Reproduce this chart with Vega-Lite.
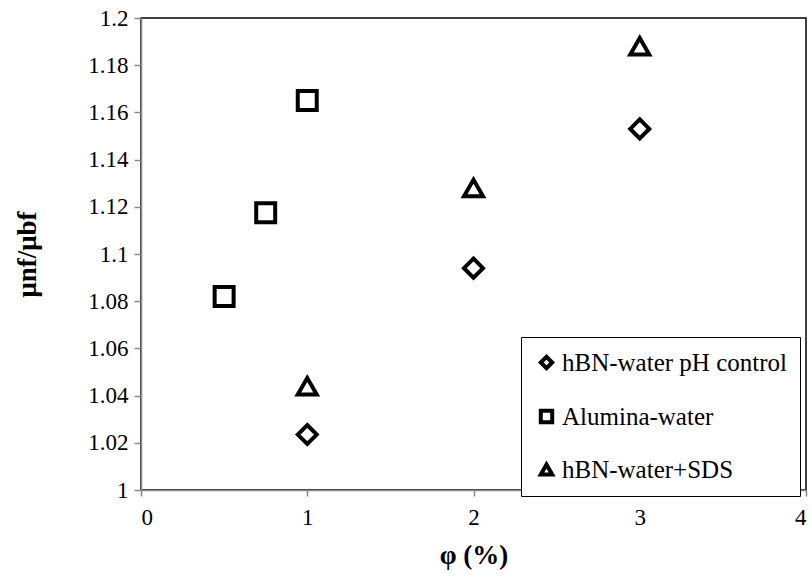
{
  "$schema": "https://vega.github.io/schema/vega-lite/v6.json",
  "width": 665,
  "height": 472,
  "autosize": {"type": "none"},
  "padding": {"left": 141, "top": 18, "right": 5, "bottom": 89},
  "background": "white",
  "config": {
    "view": {"stroke": "black", "strokeWidth": 1.5},
    "font": "Liberation Serif"
  },
  "data": {
    "values": [
      {"phi": 1, "ratio": 1.0235, "series": "hBN-water pH control"},
      {"phi": 2, "ratio": 1.094, "series": "hBN-water pH control"},
      {"phi": 3, "ratio": 1.153, "series": "hBN-water pH control"},
      {"phi": 0.5, "ratio": 1.082, "series": "Alumina-water"},
      {"phi": 0.75, "ratio": 1.1175, "series": "Alumina-water"},
      {"phi": 1, "ratio": 1.165, "series": "Alumina-water"},
      {"phi": 1, "ratio": 1.044, "series": "hBN-water+SDS"},
      {"phi": 2, "ratio": 1.128, "series": "hBN-water+SDS"},
      {"phi": 3, "ratio": 1.188, "series": "hBN-water+SDS"}
    ]
  },
  "mark": {"type": "point", "filled": false, "strokeWidth": 4, "color": "black", "opacity": 1, "size": 360},
  "encoding": {
    "x": {
      "field": "phi",
      "type": "quantitative",
      "scale": {"domain": [0, 4], "nice": false},
      "axis": {
        "values": [0, 1, 2, 3, 4],
        "grid": false,
        "domainColor": "#888888",
        "domainWidth": 1.5,
        "tickColor": "#888888",
        "tickSize": 6,
        "tickWidth": 1.5,
        "labelFontSize": 23,
        "labelFont": "Liberation Serif",
        "labelColor": "black",
        "labelPadding": 10,
        "title": "φ (%)",
        "titleFont": "Liberation Serif",
        "titleFontSize": 27,
        "titleFontWeight": "bold",
        "titleColor": "black",
        "titlePadding": 13
      }
    },
    "y": {
      "field": "ratio",
      "type": "quantitative",
      "scale": {"domain": [1, 1.2], "nice": false, "zero": false},
      "axis": {
        "values": [1, 1.02, 1.04, 1.06, 1.08, 1.1, 1.12, 1.14, 1.16, 1.18, 1.2],
        "format": ".2~f",
        "grid": false,
        "domainColor": "#888888",
        "domainWidth": 1.5,
        "tickColor": "#888888",
        "tickSize": 7,
        "tickWidth": 1.5,
        "labelFontSize": 23,
        "labelFont": "Liberation Serif",
        "labelColor": "black",
        "labelPadding": 6,
        "title": "μnf/μbf",
        "titleFont": "Liberation Serif",
        "titleFontSize": 27,
        "titleFontWeight": "bold",
        "titleColor": "black",
        "titlePadding": 46
      }
    },
    "shape": {
      "field": "series",
      "type": "nominal",
      "scale": {
        "domain": ["hBN-water pH control", "Alumina-water", "hBN-water+SDS"],
        "range": ["diamond", "square", "triangle-up"]
      },
      "legend": {
        "title": null,
        "orient": "none",
        "legendX": 380,
        "legendY": 319,
        "direction": "vertical",
        "strokeColor": "black",
        "fillColor": "white",
        "padding": 13,
        "rowPadding": 25,
        "symbolSize": 130,
        "symbolStrokeWidth": 4,
        "symbolStrokeColor": "black",
        "symbolFillColor": "white",
        "symbolOffset": 0,
        "labelFontSize": 25,
        "labelFont": "Liberation Serif",
        "labelColor": "black",
        "labelOffset": 3,
        "labelLimit": 400
      }
    }
  }
}
